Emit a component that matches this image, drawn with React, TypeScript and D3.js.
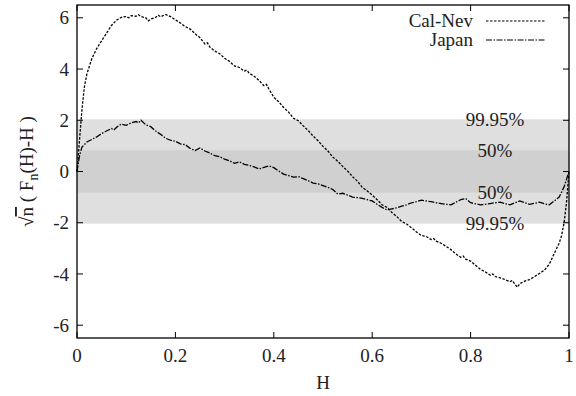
import React from "react";
import * as d3 from "d3";

const calNevH = [0, 0.005, 0.01, 0.015, 0.02, 0.03, 0.04, 0.05, 0.06, 0.07, 0.08, 0.09, 0.1, 0.105, 0.11, 0.12, 0.125, 0.13, 0.14, 0.145, 0.15, 0.16, 0.165, 0.17, 0.18, 0.19, 0.2, 0.21, 0.22, 0.23, 0.24, 0.25, 0.26, 0.265, 0.27, 0.28, 0.29, 0.3, 0.31, 0.32, 0.33, 0.34, 0.345, 0.35, 0.36, 0.37, 0.38, 0.385, 0.39, 0.4, 0.41, 0.42, 0.43, 0.44, 0.45, 0.46, 0.47, 0.48, 0.49, 0.5, 0.51, 0.52, 0.53, 0.54, 0.55, 0.56, 0.57, 0.58, 0.59, 0.6, 0.61, 0.62, 0.63, 0.64, 0.65, 0.66, 0.67, 0.68, 0.69, 0.7, 0.71, 0.72, 0.725, 0.73, 0.74, 0.75, 0.76, 0.77, 0.78, 0.785, 0.79, 0.8, 0.81, 0.82, 0.83, 0.84, 0.845, 0.85, 0.86, 0.87, 0.88, 0.885, 0.89, 0.895, 0.9, 0.91, 0.92, 0.93, 0.94, 0.95, 0.96, 0.97, 0.98, 0.985, 0.99, 0.995, 1.0];
const calNevV = [0, 1.2, 2.4, 3.3, 3.8, 4.4, 4.8, 5.1, 5.4, 5.7, 5.9, 6.02, 6.05, 6.0, 6.08, 6.06, 6.12, 6.05, 6.0, 5.88, 5.95, 6.02, 6.1, 6.04, 6.13, 6.05, 5.92, 5.8, 5.66, 5.56, 5.38, 5.22, 4.98, 5.02, 4.86, 4.7, 4.6, 4.42, 4.3, 4.12, 4.06, 3.92, 3.96, 3.84, 3.72, 3.55, 3.35, 3.4, 3.22, 2.9, 2.72, 2.5, 2.32, 2.08, 1.98, 1.78, 1.6, 1.38, 1.2, 0.98, 0.8, 0.56, 0.4, 0.2, 0.02, -0.2, -0.38, -0.62, -0.76, -0.92, -1.1, -1.3, -1.4, -1.6, -1.76, -1.95, -2.05, -2.2, -2.36, -2.5, -2.54, -2.66, -2.62, -2.72, -2.8, -2.92, -3.05, -3.22, -3.35, -3.3, -3.42, -3.5, -3.66, -3.82, -3.92, -4.05, -4.0, -4.1, -4.15, -4.22, -4.3, -4.26, -4.4, -4.52, -4.38, -4.28, -4.22, -4.1, -3.98, -3.85, -3.62, -3.2, -2.8, -2.5, -2.0, -1.2, 0];

const japanH = [0, 0.005, 0.01, 0.02, 0.03, 0.04, 0.05, 0.06, 0.07, 0.075, 0.08, 0.09, 0.1, 0.11, 0.12, 0.125, 0.13, 0.14, 0.15, 0.16, 0.17, 0.18, 0.19, 0.2, 0.21, 0.22, 0.23, 0.24, 0.25, 0.26, 0.27, 0.28, 0.29, 0.3, 0.31, 0.32, 0.33, 0.34, 0.35, 0.36, 0.37, 0.38, 0.39, 0.4, 0.41, 0.42, 0.43, 0.44, 0.45, 0.46, 0.47, 0.48, 0.49, 0.5, 0.51, 0.52, 0.53, 0.54, 0.55, 0.56, 0.57, 0.58, 0.59, 0.6, 0.61, 0.62, 0.63, 0.64, 0.65, 0.66, 0.67, 0.68, 0.69, 0.7, 0.71, 0.72, 0.73, 0.74, 0.75, 0.76, 0.77, 0.78, 0.79, 0.8, 0.81, 0.82, 0.83, 0.84, 0.85, 0.86, 0.87, 0.88, 0.89, 0.9, 0.91, 0.92, 0.93, 0.94, 0.95, 0.96, 0.97, 0.98, 0.99, 1.0];
const japanV = [0, 0.6, 0.95, 1.15, 1.25, 1.35, 1.48, 1.58, 1.68, 1.62, 1.72, 1.85, 1.8, 1.9, 1.95, 1.9, 2.0, 1.82, 1.75, 1.58, 1.45, 1.3, 1.22, 1.18, 1.08, 1.05, 0.9, 0.82, 0.92, 0.8, 0.72, 0.62, 0.58, 0.48, 0.42, 0.32, 0.38, 0.28, 0.24, 0.18, 0.1, 0.16, 0.22, 0.15, 0.02, -0.1, -0.16, -0.22, -0.2, -0.28, -0.36, -0.45, -0.48, -0.55, -0.62, -0.7, -0.88, -0.85, -0.92, -1.0, -1.02, -1.05, -1.1, -1.15, -1.28, -1.4, -1.5, -1.46, -1.42, -1.35, -1.3, -1.22, -1.18, -1.12, -1.15, -1.18, -1.22, -1.25, -1.28, -1.3, -1.2, -1.1, -1.05, -1.22, -1.26, -1.3, -1.28, -1.25, -1.22, -1.2, -1.25, -1.3, -1.22, -1.15, -1.22, -1.28, -1.24, -1.2, -1.26, -1.3, -1.15, -1.0, -0.6, 0];

const xTicks = [0, 0.2, 0.4, 0.6, 0.8, 1];
const xTickLabels = ["0", "0.2", "0.4", "0.6", "0.8", "1"];
const yTicks = [-6, -4, -2, 0, 2, 4, 6];
const bandOuter = 2.036;
const bandInner = 0.828;
const bandLabels = ["99.95%", "50%", "50%", "99.95%"];
const bandLabelValues = [bandOuter, bandInner, -bandInner, -bandOuter];
const seriesNames = ["Cal-Nev", "Japan"];

const W = 576, H = 396;
const m = { left: 77, right: 7, top: 5, bottom: 58 };
const FONT = "serif";
const FS = 19;

export default function App() {
  const x = d3.scaleLinear().domain([0, 1]).range([m.left, W - m.right]);
  const y = d3.scaleLinear().domain([-6.5, 6.5]).range([H - m.bottom, m.top]);
  const line = d3.line<[number, number]>().x((d) => x(d[0])).y((d) => y(d[1]));
  const calNev = calNevH.map((h, i) => [h, calNevV[i]] as [number, number]);
  const japan = japanH.map((h, i) => [h, japanV[i]] as [number, number]);
  const x0 = m.left, x1 = W - m.right, y0 = m.top, y1 = H - m.bottom;
  const tick = 6;
  const styles = [
    { dash: "2.5,1.5" },
    { dash: "6,1.5,1.5,1.5" },
  ];
  return (
    <svg width={W} height={H} style={{ position: "absolute", left: 0, top: 0, background: "#fff" }}>
      <rect x={x0} y={y(bandOuter)} width={x1 - x0} height={y(-bandOuter) - y(bandOuter)} fill="#dfdfdf" />
      <rect x={x0} y={y(bandInner)} width={x1 - x0} height={y(-bandInner) - y(bandInner)} fill="#cfd0cf" />
      {bandLabels.map((t, i) => (
        <text key={i} x={495} y={y(bandLabelValues[i])} dy="0.35em" textAnchor="middle" fontFamily={FONT} fontSize={FS} fill="#222">{t}</text>
      ))}
      <path d={line(japan) || ""} fill="none" stroke="#000" strokeWidth={1.3} strokeDasharray={styles[1].dash} />
      <path d={line(calNev) || ""} fill="none" stroke="#000" strokeWidth={1.3} strokeDasharray={styles[0].dash} />
      <rect x={x0} y={y0} width={x1 - x0} height={y1 - y0} fill="none" stroke="#000" strokeWidth={1.3} />
      {xTicks.map((t, i) => (
        <g key={"x" + i}>
          <line x1={x(t)} x2={x(t)} y1={y1} y2={y1 - tick} stroke="#000" strokeWidth={1} />
          <line x1={x(t)} x2={x(t)} y1={y0} y2={y0 + tick} stroke="#000" strokeWidth={1} />
          <text x={x(t)} y={362} textAnchor="middle" fontFamily={FONT} fontSize={FS} fill="#222">{xTickLabels[i]}</text>
        </g>
      ))}
      {yTicks.map((t, i) => (
        <g key={"y" + i}>
          <line x1={x0} x2={x0 + tick} y1={y(t)} y2={y(t)} stroke="#000" strokeWidth={1} />
          <line x1={x1} x2={x1 - tick} y1={y(t)} y2={y(t)} stroke="#000" strokeWidth={1} />
          <text x={69} y={y(t)} dy="0.35em" textAnchor="end" fontFamily={FONT} fontSize={FS} fill="#222">{t}</text>
        </g>
      ))}
      <text x={(x0 + x1) / 2} y={389} textAnchor="middle" fontFamily={FONT} fontSize={FS} fill="#222">H</text>
      <text transform={`translate(33, ${(y0 + y1) / 2}) rotate(-90)`} textAnchor="middle" fontFamily={FONT} fontSize={FS} fill="#222">
        <tspan>√</tspan>
        <tspan textDecoration="overline">n</tspan>
        <tspan>{" ( F"}</tspan>
        <tspan fontSize={14} dy={5}>n</tspan>
        <tspan dy={-5}>{"(H)-H )"}</tspan>
      </text>
      {seriesNames.map((s, i) => (
        <g key={s}>
          <text x={473} y={27 + i * 19} textAnchor="end" fontFamily={FONT} fontSize={FS} fill="#222">{s}</text>
          <line x1={486} x2={545} y1={21 + i * 19} y2={21 + i * 19} stroke="#000" strokeWidth={1} strokeDasharray={styles[i].dash} />
        </g>
      ))}
    </svg>
  );
}
